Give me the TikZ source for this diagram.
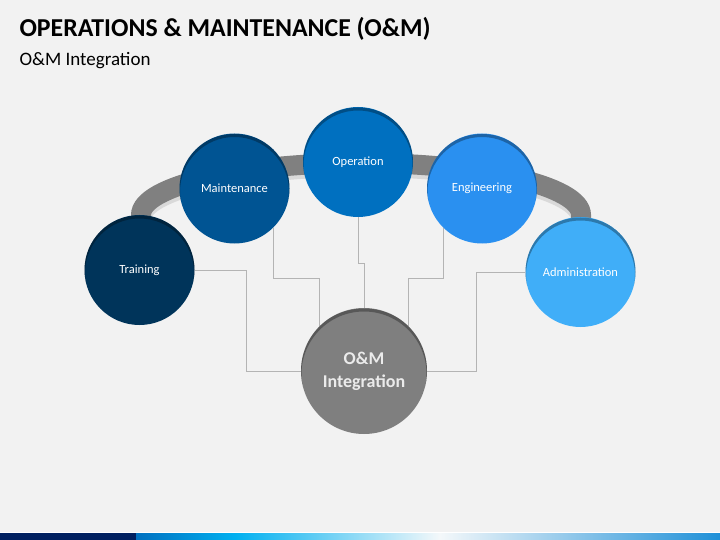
\documentclass[tikz,border=0pt]{standalone}
\usepackage{fontspec}
\setmainfont{Carlito}
\definecolor{bgray}{HTML}{F2F2F2}
\definecolor{trainblue}{HTML}{00345A}
\definecolor{maintblue}{HTML}{005493}
\definecolor{operblue}{HTML}{0070C0}
\definecolor{engblue}{HTML}{2A90F0}
\definecolor{adminblue}{HTML}{40AEF8}
\definecolor{hubgray}{HTML}{7F7F7F}
\definecolor{bandgray}{HTML}{808080}
\definecolor{wiregray}{HTML}{B4B4B4}
\definecolor{barnavy}{HTML}{002060}
\definecolor{barcyan}{HTML}{00B0F0}
\definecolor{barpale}{HTML}{F4F8FA}
\definecolor{barend}{HTML}{1E90D8}
\tikzset{
	ball/.style={circle, minimum size=110pt, inner sep=0pt, text=white, font=\fontsize{12.5}{14}\selectfont, align=center},
	wire/.style={wiregray, line width=0.8pt},
}

\begin{document}
\begin{tikzpicture}[x=1pt,y=-1pt]
		\useasboundingbox (0,0) rectangle (720,540);
		\fill[bgray] (0,0) rectangle (720,540);
		\node[anchor=base west, font=\fontsize{25.8}{30}\selectfont\bfseries] (title) at (16,37) {OPERATIONS \& MAINTENANCE (O\&M)};
		\node[anchor=base west, font=\fontsize{19}{23}\selectfont] (subtitle) at (16,66) {O\&M Integration};
		\draw[black!15, line width=20pt] (141,244) -- (141,219) arc[start angle=180, end angle=360, x radius=220, y radius=52] -- (581,244);
		\draw[bandgray, line width=20pt] (141,240) -- (141,215) arc[start angle=180, end angle=360, x radius=220, y radius=52] -- (581,240);
		\node[ball, fill=trainblue] (train) at (139.5,270) {Training};
		\node[ball, fill=maintblue] (maint) at (234.5,188.5) {Maintenance};
		\node[ball, fill=operblue] (oper) at (358,162) {Operation};
		\node[ball, fill=engblue] (eng) at (482,188.5) {Engineering};
		\node[ball, fill=adminblue] (admin) at (580.5,272) {Administration};
		\node[ball, minimum size=126pt, fill=hubgray, font=\fontsize{18}{23}\selectfont\bfseries, text=white!92!black] (hub) at (364,371) {O\&M\\Integration};
		\foreach \n/\r in {train/55, maint/55, oper/55, eng/55, admin/55, hub/63} {
			\begin{scope}
				\clip (\n.center) circle (\r pt);
				\draw[black, opacity=0.3, line width=3pt] ([yshift=-3pt]\n.center) circle (\r pt + 1pt);
			\end{scope}
		}
		\draw[wire] (train.east) -- ++(52,0) |- (hub.west);
		\draw[wire] (maint.-45) -- ++(0,51) -| (hub.135);
		\draw[wire] (oper.south) -- ++(0,46) -| (hub.north);
		\draw[wire] (eng.-135) -- ++(0,51) -| (hub.45);
		\draw[wire] (admin.west) -- ++(-49,0) |- (hub.east);
		\fill[white] (0,532) rectangle (720,533);
		\fill[barnavy] (0,533) rectangle (136,540);
		\shade[left color=operblue, right color=barcyan] (136,533) rectangle (235,540);
		\shade[left color=barcyan, right color=barpale] (235,533) rectangle (440,540);
		\shade[left color=barpale, right color=barend] (440,533) rectangle (720,540);
	\end{tikzpicture}
\end{document}
